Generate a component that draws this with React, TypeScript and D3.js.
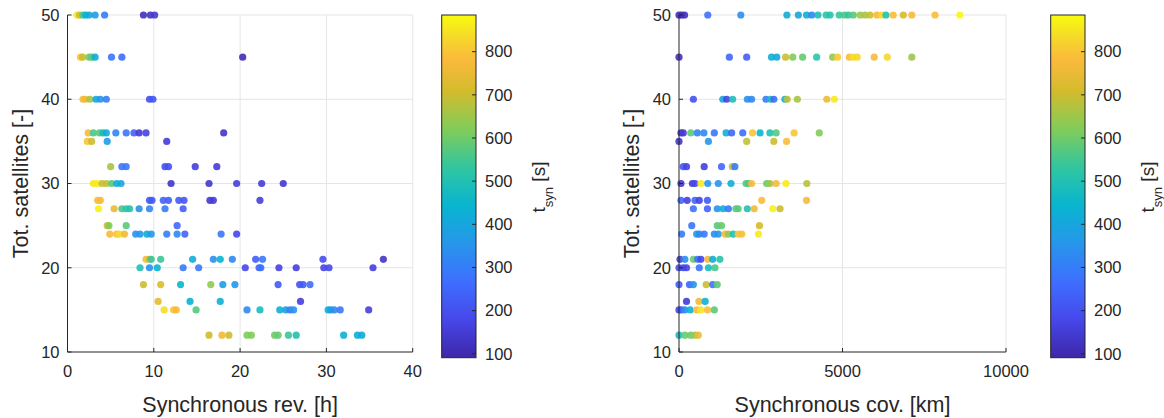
import React from "react";
import * as d3 from "d3";

// ---------- DATA ----------
// [synchronous revisit (h), total satellites, t_syn (s)]
const revPoints: [number, number, number][] = [
  // 50
  [1.1, 50, 860], [1.4, 50, 700], [1.8, 50, 560], [2.1, 50, 430], [2.5, 50, 410], [3.2, 50, 380], [4.3, 50, 300],
  [8.8, 50, 120], [9.6, 50, 130], [10.1, 50, 140],
  // 45
  [1.5, 45, 800], [1.75, 45, 700], [2.5, 45, 600], [2.8, 45, 580], [3.2, 45, 420], [5.1, 45, 280], [6.3, 45, 260], [20.3, 45, 110],
  // 40
  [1.8, 40, 780], [2.1, 40, 760], [2.6, 40, 660], [3.3, 40, 400], [3.8, 40, 350], [4.5, 40, 300], [9.5, 40, 200], [9.9, 40, 210],
  // 36
  [2.4, 36, 780], [3.0, 36, 560], [3.7, 36, 580], [4.1, 36, 480], [4.5, 36, 420], [5.6, 36, 320], [6.8, 36, 280],
  [7.7, 36, 240], [8.3, 36, 150], [9.1, 36, 170], [18.1, 36, 130],
  // 35
  [2.3, 35, 800], [2.8, 35, 700], [4.6, 35, 380], [11.5, 35, 150],
  // 32
  [5.0, 32, 660], [6.3, 32, 280], [6.8, 32, 290], [11.3, 32, 190], [11.7, 32, 200], [14.8, 32, 160], [17.3, 32, 150],
  // 30
  [3.0, 30, 850], [3.4, 30, 860], [4.0, 30, 700], [4.5, 30, 690], [5.1, 30, 580], [5.7, 30, 420], [6.2, 30, 400],
  [12.0, 30, 130], [16.4, 30, 140], [19.6, 30, 160], [22.5, 30, 150], [25.0, 30, 140],
  // 28
  [3.5, 28, 780], [3.8, 28, 780], [9.5, 28, 220], [9.8, 28, 220], [11.1, 28, 240], [11.7, 28, 230], [12.9, 28, 220],
  [13.5, 28, 210], [16.5, 28, 150], [16.9, 28, 150], [22.3, 28, 160],
  // 27
  [3.6, 27, 870], [5.4, 27, 750], [6.3, 27, 560], [6.8, 27, 520], [7.2, 27, 510], [8.3, 27, 340], [9.5, 27, 320],
  [11.3, 27, 300], [13.4, 27, 230],
  // 25
  [4.6, 25, 720], [4.8, 25, 620], [6.8, 25, 580], [12.7, 25, 250],
  // 24
  [4.9, 24, 780], [5.7, 24, 790], [6.0, 24, 840], [6.6, 24, 760], [7.9, 24, 340], [8.4, 24, 360], [9.2, 24, 420],
  [9.7, 24, 360], [11.5, 24, 300], [12.7, 24, 330], [13.6, 24, 240], [17.8, 24, 290], [19.6, 24, 180],
  // 21
  [9.1, 21, 780], [9.5, 21, 680], [9.7, 21, 540], [10.8, 21, 540], [14.5, 21, 420], [16.9, 21, 340], [17.7, 21, 440],
  [19.1, 21, 320], [21.8, 21, 230], [22.6, 21, 290], [29.6, 21, 190], [36.6, 21, 130],
  // 20
  [8.4, 20, 500], [9.5, 20, 340], [10.4, 20, 440], [13.4, 20, 290], [15.2, 20, 290], [20.6, 20, 180], [22.2, 20, 250],
  [22.4, 20, 270], [24.5, 20, 170], [26.5, 20, 160], [29.7, 20, 170], [30.3, 20, 180], [35.4, 20, 160],
  // 18
  [8.8, 18, 700], [10.8, 18, 720], [13.1, 18, 450], [16.6, 18, 640], [18.0, 18, 380], [19.4, 18, 360], [24.4, 18, 220],
  [26.9, 18, 210], [27.3, 18, 220], [28.1, 18, 260],
  // 16
  [10.5, 16, 740], [14.2, 16, 440], [17.7, 16, 430], [27.0, 16, 160],
  // 15
  [11.2, 15, 840], [12.3, 15, 800], [12.6, 15, 780], [14.9, 15, 570], [20.8, 15, 330], [22.3, 15, 480], [24.6, 15, 430],
  [25.3, 15, 380], [25.8, 15, 300], [26.2, 15, 350], [30.2, 15, 420], [30.5, 15, 380], [30.9, 15, 330], [31.6, 15, 280],
  [34.9, 15, 160],
  // 12
  [16.4, 12, 700], [17.9, 12, 760], [18.7, 12, 700], [20.8, 12, 620], [21.3, 12, 620], [24.0, 12, 600], [24.4, 12, 590],
  [25.6, 12, 540], [26.5, 12, 500], [32.0, 12, 430], [33.6, 12, 420], [34.1, 12, 410],
];

// [synchronous coverage (km), total satellites, t_syn (s)]
const covPoints: [number, number, number][] = [
  // 50
  [0, 50, 110], [80, 50, 110], [170, 50, 120], [880, 50, 270], [1890, 50, 340], [3300, 50, 420], [3650, 50, 400],
  [3900, 50, 420], [4060, 50, 320], [4250, 50, 490], [4500, 50, 520], [4620, 50, 510], [4900, 50, 540], [5060, 50, 560],
  [5180, 50, 530], [5330, 50, 580], [5540, 50, 650], [5690, 50, 660], [5840, 50, 700], [6050, 50, 780], [6200, 50, 830],
  [6330, 50, 500], [6550, 50, 790], [6860, 50, 710], [7120, 50, 780], [7830, 50, 790], [8590, 50, 880],
  // 45
  [0, 45, 120], [1540, 45, 250], [2070, 45, 230], [2830, 45, 430], [2990, 45, 410], [3260, 45, 700], [3480, 45, 620],
  [3780, 45, 590], [4210, 45, 520], [4700, 45, 640], [4850, 45, 810], [5210, 45, 790], [5330, 45, 840], [5450, 45, 830],
  [5970, 45, 780], [6370, 45, 830], [7120, 45, 650],
  // 40
  [440, 40, 200], [1340, 40, 400], [1460, 40, 170], [1640, 40, 490], [2090, 40, 340], [2220, 40, 330], [2660, 40, 300],
  [2800, 40, 480], [2900, 40, 260], [3240, 40, 430], [3310, 40, 690], [3620, 40, 660], [4520, 40, 760], [4750, 40, 860],
  // 36
  [60, 36, 130], [130, 36, 150], [360, 36, 580], [560, 36, 310], [760, 36, 330], [1080, 36, 280], [1440, 36, 430],
  [1610, 36, 250], [1950, 36, 260], [2250, 36, 800], [2480, 36, 450], [2780, 36, 500], [2970, 36, 570], [3520, 36, 800],
  [4290, 36, 620],
  // 35
  [0, 35, 130], [900, 35, 360], [2070, 35, 690], [2900, 35, 700], [3290, 35, 790],
  // 32
  [130, 32, 220], [230, 32, 170], [770, 32, 160], [1300, 32, 250], [1630, 32, 690], [1710, 32, 300],
  // 30
  [60, 30, 130], [410, 30, 150], [490, 30, 180], [670, 30, 860], [880, 30, 360], [1200, 30, 350], [1590, 30, 430],
  [2050, 30, 570], [2120, 30, 560], [2220, 30, 780], [2680, 30, 600], [2780, 30, 650], [2970, 30, 780], [3270, 30, 860],
  [3910, 30, 680],
  // 28
  [60, 28, 240], [250, 28, 160], [490, 28, 250], [620, 28, 170], [870, 28, 220], [2530, 28, 790], [3900, 28, 780],
  // 27
  [440, 27, 270], [870, 27, 240], [1170, 27, 350], [1350, 27, 420], [1510, 27, 280], [1740, 27, 570], [1810, 27, 580],
  [2090, 27, 500], [2300, 27, 760], [2870, 27, 870], [3090, 27, 700],
  // 25
  [390, 25, 280], [1170, 25, 580], [1300, 25, 590], [2460, 25, 710],
  // 24
  [80, 24, 300], [540, 24, 360], [620, 24, 330], [770, 24, 290], [1080, 24, 340], [1200, 24, 360], [1410, 24, 770],
  [1510, 24, 640], [1660, 24, 500], [1810, 24, 800], [1920, 24, 790], [2430, 24, 860],
  // 21
  [30, 21, 150], [180, 21, 340], [440, 21, 600], [570, 21, 280], [670, 21, 180], [880, 21, 770], [1030, 21, 420],
  [1250, 21, 510],
  // 20
  [0, 20, 200], [130, 20, 180], [230, 20, 170], [620, 20, 280], [900, 20, 480], [1100, 20, 560],
  // 18
  [0, 18, 230], [320, 18, 240], [440, 18, 350], [830, 18, 700], [1030, 18, 280], [1170, 18, 580],
  // 16
  [230, 16, 150], [610, 16, 760], [800, 16, 430],
  // 15
  [0, 15, 170], [80, 15, 240], [180, 15, 340], [340, 15, 430], [540, 15, 780], [660, 15, 850], [870, 15, 790],
  [1080, 15, 580],
  // 12
  [0, 12, 490], [180, 12, 590], [360, 12, 600], [490, 12, 650], [590, 12, 760],
];

const revTicks = [0, 10, 20, 30, 40];
const covTicks = [0, 5000, 10000];
const satTicks = [10, 20, 30, 40, 50];
const cbarTicks = [100, 200, 300, 400, 500, 600, 700, 800];
const cLimits = [91, 885];

// parula-like colormap stops
const parulaPos = [0, 0.111, 0.222, 0.333, 0.444, 0.556, 0.667, 0.778, 0.87, 0.94, 1];
const parulaCol = ["#3e26a8", "#4747eb", "#3e6fff", "#2796eb", "#08b5d0", "#31c69f", "#81cc59", "#d4bb2c", "#fbb93c", "#f5dc28", "#f9fb0e"];

// ---------- LAYOUT ----------
const W = 1164, H = 418;
const top = 15, bottom = 352;
const FONT = "'Liberation Sans', Arial, Helvetica, sans-serif";
const TXT = "#262626";
const GRID = "#e5e5e5";

const colorScale = d3
  .scaleLinear<string>()
  .domain(parulaPos.map((p) => cLimits[0] + p * (cLimits[1] - cLimits[0])))
  .range(parulaCol)
  .interpolate(d3.interpolateRgb)
  .clamp(true);

function Panel(props: {
  points: [number, number, number][];
  x0: number; x1: number; xDomain: [number, number]; xTicks: number[]; xLabel: string;
  cbX: number; gid: string;
}) {
  const { points, x0, x1, xDomain, xTicks, xLabel, cbX, gid } = props;
  const x = d3.scaleLinear().domain(xDomain).range([x0, x1]);
  const y = d3.scaleLinear().domain([10, 50]).range([bottom, top]);
  const cbW = 34.3, cbTop = 15, cbBot = 357.7;
  const cy = d3.scaleLinear().domain(cLimits).range([cbBot, cbTop]);
  const tl = 4;
  return (
    <g>
      {/* grid */}
      {xTicks.filter((t) => t !== xDomain[0]).map((t) => (
        <line key={"gx" + t} x1={x(t)} x2={x(t)} y1={top} y2={bottom} stroke={GRID} strokeWidth={1} />
      ))}
      {satTicks.filter((t) => t !== 10).map((t) => (
        <line key={"gy" + t} x1={x0} x2={x1} y1={y(t)} y2={y(t)} stroke={GRID} strokeWidth={1} />
      ))}
      {/* points */}
      {points.map((p, i) => (
        <circle key={i} cx={x(p[0])} cy={y(p[1])} r={3.6} fill={colorScale(p[2])} fillOpacity={0.9} />
      ))}
      {/* axes */}
      <line x1={x0} x2={x0} y1={top} y2={bottom} stroke={TXT} strokeWidth={1} />
      <line x1={x0} x2={x1} y1={bottom} y2={bottom} stroke={TXT} strokeWidth={1} />
      {xTicks.map((t) => (
        <g key={"xt" + t}>
          <line x1={x(t)} x2={x(t)} y1={bottom} y2={bottom - tl} stroke={TXT} strokeWidth={1} />
          <text x={x(t)} y={377} textAnchor="middle" fontSize={16.5} fill={TXT} fontFamily={FONT}>{t}</text>
        </g>
      ))}
      {satTicks.map((t) => (
        <g key={"yt" + t}>
          <line x1={x0} x2={x0 + tl} y1={y(t)} y2={y(t)} stroke={TXT} strokeWidth={1} />
          <text x={x0 - 8} y={y(t) + 5.8} textAnchor="end" fontSize={16.5} fill={TXT} fontFamily={FONT}>{t}</text>
        </g>
      ))}
      <text x={(x0 + x1) / 2} y={412} textAnchor="middle" fontSize={21.5} fill={TXT} fontFamily={FONT}>{xLabel}</text>
      <text transform={`translate(${x0 - 40},${(top + bottom) / 2}) rotate(-90)`} textAnchor="middle" fontSize={21.5} fill={TXT} fontFamily={FONT}>
        Tot. satellites [-]
      </text>
      {/* colorbar */}
      <defs>
        <linearGradient id={gid} x1="0" y1="1" x2="0" y2="0">
          {d3.range(0, 1.0001, 0.02).map((f) => (
            <stop key={f} offset={f} stopColor={colorScale(cLimits[0] + f * (cLimits[1] - cLimits[0]))} />
          ))}
        </linearGradient>
      </defs>
      <rect x={cbX} y={cbTop} width={cbW} height={cbBot - cbTop} fill={`url(#${gid})`} stroke={TXT} strokeWidth={1} />
      {cbarTicks.map((t) => (
        <g key={"ct" + t}>
          <line x1={cbX + cbW} x2={cbX + cbW - 4} y1={cy(t)} y2={cy(t)} stroke={TXT} strokeWidth={1} />
          <text x={cbX + cbW + 9} y={cy(t) + 5.8} fontSize={16.5} fill={TXT} fontFamily={FONT}>{t}</text>
        </g>
      ))}
      <text transform={`translate(${cbX + 103.5},${187}) rotate(-90)`} textAnchor="middle" fontSize={19} fill={TXT} fontFamily={FONT}>
        t<tspan baselineShift="sub" fontSize={13}>syn</tspan> [s]
      </text>
    </g>
  );
}

export default function App() {
  return (
    <svg width={W} height={H} style={{ position: "absolute", left: 0, top: 0, background: "#fff" }}>
      <rect width={W} height={H} fill="#fff" />
      <Panel points={revPoints} x0={67.5} x1={412.7} xDomain={[0, 40]} xTicks={revTicks}
        xLabel="Synchronous rev. [h]" cbX={441.7} gid="cb1" />
      <Panel points={covPoints} x0={679} x1={1006} xDomain={[0, 10000]} xTicks={covTicks}
        xLabel="Synchronous cov. [km]" cbX={1050.7} gid="cb2" />
    </svg>
  );
}
